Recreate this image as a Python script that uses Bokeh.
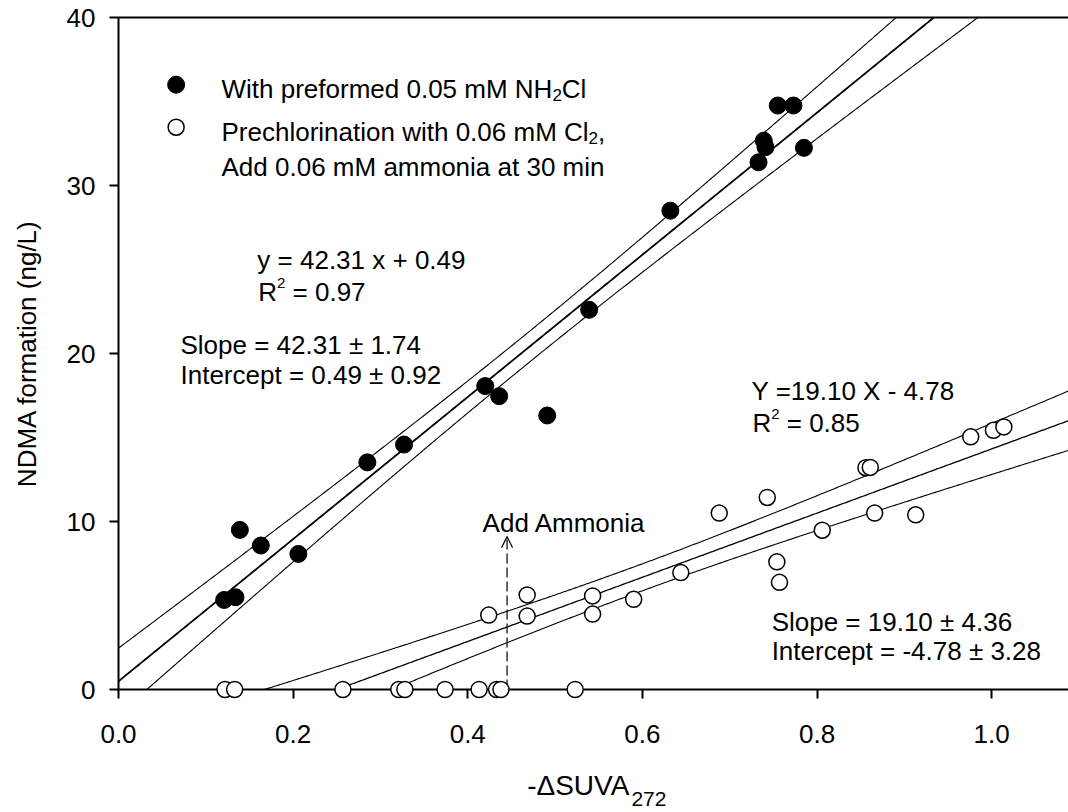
import numpy as np
from bokeh.plotting import figure
from bokeh.models import Range1d, LinearAxis, FixedTicker, Label, Arrow, OpenHead
from bokeh.core.properties import value
from bokeh.embed import file_html
from bokeh.resources import INLINE

# ---------------------------------------------------------------- data
# NDMA formation with preformed 0.05 mM NH2Cl
nh2cl_x = [0.121, 0.134, 0.139, 0.163, 0.206, 0.285, 0.327, 0.420, 0.436,
           0.491, 0.539, 0.632, 0.733, 0.739, 0.741, 0.755, 0.773, 0.785]
nh2cl_y = [5.33, 5.49, 9.50, 8.57, 8.07, 13.52, 14.58, 18.06, 17.46,
           16.31, 22.6, 28.5, 31.38, 32.67, 32.28, 34.76, 34.76, 32.24]

# Prechlorination with 0.06 mM Cl2, ammonia added at 30 min
precl_x = [0.122, 0.133, 0.257, 0.321, 0.328, 0.374, 0.413, 0.433, 0.438, 0.523,
           0.424, 0.468, 0.468, 0.543, 0.543, 0.590, 0.644, 0.688, 0.743, 0.754,
           0.757, 0.806, 0.856, 0.861, 0.866, 0.913, 0.976, 1.002, 1.014]
precl_y = [0, 0, 0, 0, 0, 0, 0, 0, 0, 0,
           4.43, 5.63, 4.37, 5.57, 4.49, 5.37, 6.96, 10.50, 11.43, 7.60,
           6.38, 9.48, 13.20, 13.22, 10.50, 10.40, 15.04, 15.43, 15.63]

# regression coefficients (slope, intercept)
nh2cl_fit = (42.31, 0.49)
precl_fit = (19.10, -4.78)

# ammonia dosing point on the -dSUVA axis
ammonia_x = 0.445
ammonia_y_top = 9.1

x_ticks = [0.0, 0.2, 0.4, 0.6, 0.8, 1.0]
x_tick_labels = ["0.0", "0.2", "0.4", "0.6", "0.8", "1.0"]
y_ticks = [0, 10, 20, 30, 40]
y_tick_labels = ["0", "10", "20", "30", "40"]

X_MAX = 1.088
Y_MAX = 40

FONT = "Liberation Sans"
FS = 26
NBSP = "\u00a0"

# Arial / Liberation Sans advance widths (1/1000 em) for laying out sub/superscripts
ADV = {'W': 944, 'i': 222, 't': 278, 'h': 556, ' ': 278, NBSP: 278, 'p': 556, 'r': 333,
       'e': 556, 'f': 278, 'o': 556, 'm': 833, 'd': 556, '.': 278, 'M': 833, 'N': 722,
       'H': 722, 'P': 667, 'c': 500, 'l': 222, 'n': 556, 'a': 556, 'w': 722, 'C': 722,
       'R': 722, '-': 333, 'Δ': 667, 'S': 667, 'U': 722, 'V': 667, 'A': 667, ',': 278,
       '=': 584}


def text_width(s, size):
    return sum(ADV.get(ch, 556) for ch in s) * size / 1000.0


def t975(df):
    # Cornish-Fisher expansion of the two-sided 95 % Student t quantile
    z = 1.959964
    return (z + (z ** 3 + z) / (4 * df)
            + (5 * z ** 5 + 16 * z ** 3 + 3 * z) / (96 * df ** 2))


def confidence_band(xs, ys, fit, grid):
    """95 % band of the mean response, centred on the reported fit; the
    residual scatter is taken about the least-squares line of the points."""
    xs = np.asarray(xs, float)
    ys = np.asarray(ys, float)
    n = len(xs)
    xbar = xs.mean()
    sxx = ((xs - xbar) ** 2).sum()
    b, a = np.polyfit(xs, ys, 1)
    resid = ys - (b * xs + a)
    s = np.sqrt((resid ** 2).sum() / (n - 2))
    hw = t975(n - 2) * s * np.sqrt(1.0 / n + (grid - xbar) ** 2 / sxx)
    slope, icpt = fit
    yhat = slope * grid + icpt
    return yhat, yhat - hw, yhat + hw


# ---------------------------------------------------------------- figure
p = figure(width=1068, height=812,
           x_range=Range1d(0, X_MAX), y_range=Range1d(0, Y_MAX),
           output_backend="svg", toolbar_location=None,
           min_border_left=118, min_border_right=0,
           min_border_top=17, min_border_bottom=123)
p.outline_line_color = None
p.xgrid.visible = False
p.ygrid.visible = False
p.background_fill_color = "white"
p.border_fill_color = "white"

for ax in (p.xaxis[0], p.yaxis[0]):
    ax.axis_line_width = 2
    ax.axis_line_color = "black"
    ax.major_tick_line_width = 2
    ax.major_tick_line_color = "black"
    ax.major_tick_out = 9
    ax.major_tick_in = 0
    ax.minor_tick_line_color = None
    ax.major_label_text_font = FONT
    ax.major_label_text_font_size = f"{FS}px"
    ax.major_label_text_color = "black"

p.xaxis.ticker = FixedTicker(ticks=x_ticks)
p.xaxis.major_label_overrides = dict(zip(x_ticks, x_tick_labels))
p.xaxis.major_label_standoff = 26

p.yaxis.ticker = FixedTicker(ticks=y_ticks)
p.yaxis.major_label_overrides = dict(zip(y_ticks, y_tick_labels))
p.yaxis.major_label_standoff = 14
p.yaxis.axis_label = "NDMA formation (ng/L)"
p.yaxis.axis_label_text_font = FONT
p.yaxis.axis_label_text_font_size = f"{FS}px"
p.yaxis.axis_label_text_font_style = "normal"
p.yaxis.axis_label_text_color = "black"
p.yaxis.axis_label_standoff = 22

# top frame line
top = LinearAxis(ticker=FixedTicker(ticks=[]), axis_line_width=2,
                 major_tick_line_color=None, minor_tick_line_color=None,
                 major_label_text_font_size="0px")
p.add_layout(top, "above")

# ---------------------------------------------------------------- regression lines
grid = np.linspace(0, X_MAX, 500)
for xs, ys, fit, w_mid in ((nh2cl_x, nh2cl_y, nh2cl_fit, 1.8),
                           (precl_x, precl_y, precl_fit, 1.3)):
    yhat, lo, hi = confidence_band(xs, ys, fit, grid)
    p.line(grid, yhat, line_color="black", line_width=w_mid)
    p.line(grid, lo, line_color="black", line_width=1.1)
    p.line(grid, hi, line_color="black", line_width=1.1)

# ---------------------------------------------------------------- points
p.scatter(nh2cl_x, nh2cl_y, marker="circle", size=17,
          fill_color="black", line_color="black", level="overlay")
p.scatter(precl_x, precl_y, marker="circle", size=16, line_width=1.5,
          fill_color="white", line_color="black", level="overlay")

# ammonia addition marker
p.add_layout(Arrow(x_start=ammonia_x, y_start=0, x_end=ammonia_x, y_end=ammonia_y_top,
                   line_color="black", line_width=1.2, line_dash="10 4",
                   end=OpenHead(size=11, line_width=1.2, line_color="black")))


# ---------------------------------------------------------------- texts
def put_text(x, y, parts):
    dx = 0.0
    for txt, size, dy in parts:
        p.add_layout(Label(x=x, y=y, x_offset=dx, y_offset=dy, text=txt,
                           text_font=FONT, text_font_size=f"{size}px",
                           text_color="black", text_align="left",
                           text_baseline="alphabetic"))
        dx += text_width(txt, size)


SUB = 17
SUP = 15

# legend
p.scatter([0.066], [36.0], marker="circle", size=17, fill_color="black",
          line_color="black", level="overlay")
p.scatter([0.066], [33.47], marker="circle", size=16, line_width=1.5,
          fill_color="white", line_color="black", level="overlay")
put_text(0.118, 35.72, [("With preformed 0.05 mM NH", FS, 0), ("2", SUB, -6), ("Cl", FS, 0)])
put_text(0.118, 33.18, [("Prechlorination with 0.06 mM Cl", FS, 0), ("2", SUB, -6), (",", FS, 0)])
put_text(0.118, 31.09, [("Add 0.06 mM ammonia at 30 min", FS, 0)])

# NH2Cl regression statistics
put_text(0.159, 25.55, [("y = 42.31 x + 0.49", FS, 0)])
put_text(0.160, 23.69, [("R", FS, 0), ("2", SUP, 9), (NBSP + "= 0.97", FS, 0)])
put_text(0.071, 20.50, [("Slope = 42.31 ± 1.74", FS, 0)])
put_text(0.071, 18.75, [("Intercept = 0.49 ± 0.92", FS, 0)])

# prechlorination regression statistics
put_text(0.725, 17.74, [("Y =19.10 X - 4.78", FS, 0)])
put_text(0.726, 15.87, [("R", FS, 0), ("2", SUP, 9), (NBSP + "= 0.85", FS, 0)])
put_text(0.748, 4.03, [("Slope = 19.10 ± 4.36", FS, 0)])
put_text(0.748, 2.30, [("Intercept = -4.78 ± 3.28", FS, 0)])

put_text(0.417, 9.92, [("Add Ammonia", FS, 0)])

# x axis title, drawn below the frame as text glyphs
TITLE_FS = 28
TITLE_SUB_FS = 21
title_main = "-ΔSUVA"
title_sub = "272"
p.text(x=[0.468], y=[-5.72], text=[title_main],
       text_font=value(FONT), text_font_size=value(f"{TITLE_FS}px"),
       text_color="black", text_align="left", text_baseline="alphabetic",
       level="overlay")
p.text(x=[0.468], y=[-6.50], text=[title_sub],
       x_offset=text_width(title_main, TITLE_FS),
       text_font=value(FONT), text_font_size=value(f"{TITLE_SUB_FS}px"),
       text_color="black", text_align="left", text_baseline="alphabetic",
       level="overlay")

open("out.html", "w").write(file_html(p, INLINE))
